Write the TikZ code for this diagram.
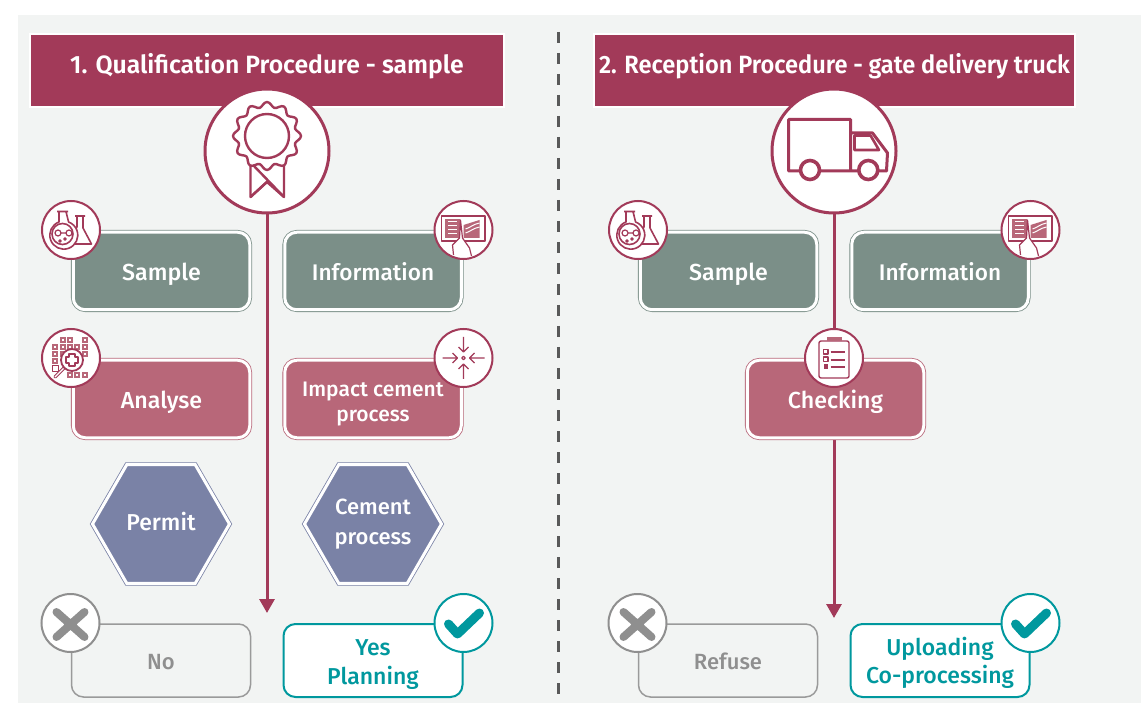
\documentclass[tikz,border=0pt]{standalone}
\usepackage{fontspec}
\setmainfont{Fira Sans}
\newfontfamily\headfont[FakeStretch=0.99]{Fira Sans SemiBold}
\newfontfamily\headtight[FakeStretch=0.944]{Fira Sans SemiBold}
\newfontfamily\labelfont{Fira Sans Medium}
\usetikzlibrary{positioning,shapes.geometric,arrows.meta}
\definecolor{wine}{HTML}{A23A59}
\definecolor{rose}{HTML}{B86779}
\definecolor{sage}{HTML}{7B8F88}
\definecolor{slate}{HTML}{7A82A6}
\definecolor{teal}{HTML}{00989E}
\definecolor{ash}{HTML}{8F8F8F}
\definecolor{panel}{HTML}{F2F4F3}
\newcommand{\lift}[1]{\rule{0pt}{#1}}
\tikzset{
  header/.style={rectangle,draw=white,line width=2pt,fill=wine,text=white,minimum height=73pt,inner sep=0pt,text height=18pt,text depth=12pt},
  box/.style={rectangle,rounded corners=12pt,minimum width=176.5pt,minimum height=77.5pt,inner sep=0pt,outer sep=2.25pt,line width=.8pt,double=white,double distance=3pt,text=white,align=center,font=\labelfont\fontsize{23.2}{25}\selectfont},
  infobox/.style={box,fill=sage,draw=sage},
  workbox/.style={box,fill=rose,draw=rose},
  oneline/.style={text height=19.5pt,text depth=0pt},
  permitbox/.style={regular polygon,regular polygon sides=6,minimum size=137pt,inner sep=0pt,line width=.8pt,double=white,double distance=3pt,fill=slate,draw=slate,text=white,align=center,font=\labelfont\fontsize{22}{30}\selectfont},
  endbox/.style={rectangle,rounded corners=12pt,minimum width=179pt,minimum height=73pt,inner sep=0pt,outer sep=1pt,line width=2pt,align=center,font=\labelfont\fontsize{22}{28.5}\selectfont},
  refusebox/.style={endbox,draw=ash!90,line width=1.5pt,text=ash,text height=18pt,text depth=0pt},
  acceptbox/.style={endbox,draw=teal,fill=white,text=teal},
  bigbadge/.style={circle,draw=wine,fill=white,line width=3pt,minimum size=124pt,inner sep=0pt},
  badge/.style={circle,draw=wine,fill=white,line width=2pt,minimum size=58pt,inner sep=0pt},
  greybadge/.style={badge,draw=ash},
  tealbadge/.style={badge,draw=teal},
  flow/.style={draw=wine,line width=3pt,-{Triangle[length=14pt,width=15pt]}},
  icon/.style={draw=wine,line width=1.6pt,line join=round},
  sealicon/.pic={
    \draw[icon,line width=2.4pt] plot[smooth cycle,samples=96,domain=0:356.25,variable=\t] ({(31.5+2.5*cos(12*\t))*cos(\t)},{-15+(31.5+2.5*cos(12*\t))*sin(\t)});
    \draw[icon,line width=2.4pt] (0,-15) circle (22pt);
    \draw[icon,line width=2.4pt] (-16.5,14) -- (-16.5,46) -- (0,31) -- (17,46) -- (17,14);
    \draw[icon,line width=2.4pt] (-14,14) -- (17,46) (-16.5,46) -- (2,29);
  },
  truckicon/.pic={
    \draw[icon,line width=3pt] (16.5,20) -- (-45.5,20) -- (-45.5,-31.5) -- (16.5,-31.5) -- (16.5,20) -- (52.5,20) -- (53.5,2) -- (38.5,-18) -- (16.5,-18);
    \draw[icon,line width=2.6pt] (20.5,-15.5) -- (36.5,-15.5) -- (45,-1) -- (20.5,-1) -- cycle;
    \draw[icon,line width=3.6pt,fill=white] (-24,19) circle (9.5pt) (34.3,19) circle (9.5pt);
  },
  flaskicon/.pic={
    \draw[icon] (4,-14) -- (14,-14) (6,-14) -- (6,-3) -- (2,4) (12,-14) -- (12,-2) -- (20.5,14) -- (2,14);
    \draw[icon,fill=white] (-14,-18.5) -- (-3,-18.5) (-12,-18.5) -- (-12,-8) arc[start angle=110,end angle=430,radius=14pt] -- (-5,-18.5);
    \draw[icon] (-8.5,4) circle (10.5pt);
    \draw[icon,line width=1.2pt] (-13,3) circle (3pt) (-2,3) circle (3pt) (-10,3) -- (-5,3) (-11,11) circle (1.2pt) (-6,9) circle (1.2pt);
  },
  tableticon/.pic={
    \draw[icon,line width=1.4pt] (-22,-14) rectangle (21.3,11);
    \fill[rose] (-18.7,-10.7) rectangle (-3.7,8);
    \foreach \ly in {-8,-4,0,4}{\draw[white,line width=1pt] (-15.5,\ly) -- (-7,\ly);}
    \fill[rose] (0,-5) -- (16,-10) -- (16,8) -- (0,8) -- cycle;
    \foreach \ly in {-1,3}{\draw[white,line width=1pt] (2,\ly) .. controls (6,\ly-1) and (10,\ly-5) .. (16,\ly-6);}
    \draw[icon,line width=1.2pt,fill=white] (-10,25) -- (-11,15) -- (-4,8) -- (-3,-10) -- (-1,8) -- (6,18) -- (8,26);
  },
  analyseicon/.pic={
    \foreach \gx/\gy in {-8.3/-18,-1/-18,13.7/-18,-15.7/-11.3,-8.3/-11.3,-1/-11.3,6.3/-11.3,13.7/-11.3,-15.7/-4,-8.3/-4,13.7/-4,-15.7/3.3,-1/17,6.3/17,13.7/17}{
      \fill[rose] (\gx-3,\gy-3) rectangle (\gx+3,\gy+3);
      \fill[white] (\gx-1,\gy-1) rectangle (\gx+1,\gy+1);
    }
    \draw[icon,line width=1pt] (-18.7,7.3) rectangle (-12.7,13.3);
    \draw[icon,line width=3.2pt,line cap=round] (-7,10) -- (-16,19);
    \draw[white,line width=1.2pt,line cap=round] (-7,10) -- (-16,19);
    \draw[icon,line width=1.8pt,fill=white] (1,2) circle (11pt);
    \draw[icon,line width=1.4pt,fill=white] (-2,-4) -- (4,-4) -- (4,-1) -- (7,-1) -- (7,5) -- (4,5) -- (4,8) -- (-2,8) -- (-2,5) -- (-5,5) -- (-5,-1) -- (-2,-1) -- cycle;
  },
  impacticon/.pic={
    \draw[icon,line width=1.2pt] (0,0) circle (1.8pt);
    \foreach \ang in {0,90,180,270}{
      \draw[icon,rotate=\ang,line width=1.4pt] (21,0) -- (6,0) (11,-5) -- (6,0) -- (11,5);
    }
  },
  clipicon/.pic={
    \draw[icon,line width=1.4pt,rounded corners=2pt] (-15,-17) rectangle (15,20);
    \fill[rose] (-7,-21) rectangle (7.5,-16.5);
    \foreach \ly in {-6,2,9}{\draw[icon,line width=1.4pt] (-3.5,\ly) -- (11,\ly);}
    \draw[icon,line width=1.2pt] (-10.5,-8.5) rectangle (-6,-4) (-10.5,-1) rectangle (-6,3.5);
    \fill[wine] (-10.5,6.5) rectangle (-6,11);
  },
  crossicon/.pic={
    \draw[ash,line width=8pt,line cap=round] (-14,-11) -- (14,14) (14,-11) -- (-14,14);
  },
  checkicon/.pic={
    \draw[teal,line width=9pt,line cap=round,line join=round] (-15,1) -- (-6,11) -- (16,-10);
  }
}
\begin{document}
\begin{tikzpicture}[x=1pt,y=-1pt]
  \useasboundingbox (0,0) rectangle (1141,703);
  \fill[panel] (18,15) rectangle (1141,703);
  \coordinate (dashtop) at (558.5,32);
  \coordinate (dashend) at (558.5,703);
  \draw[black!65,line width=2.6pt,dash pattern=on 11pt off 10pt] (dashtop) -- (dashend);

  \node[header,minimum width=474pt,font=\headfont\fontsize{25}{30}\selectfont] (head1) at (267,70.5) {1. Qualification Procedure - sample};
  \node[header,minimum width=481pt,font=\headtight\fontsize{25}{30}\selectfont] (head2) at (834.5,70.5) {2. Reception Procedure - gate delivery truck};

  \node[bigbadge] (seal) at (267,151) {};
  \coordinate (sealend) at (267,613);
  \draw[flow] (seal) -- (sealend);
  \pic at (seal) {sealicon};
  \node[bigbadge] (truck) at (834,151) {};
  \coordinate (truckend) at (834,618);
  \draw[flow] (truck) -- (truckend);
  \pic at (truck) {truckicon};

  \node[infobox,oneline] (sample1) at (161.5,271) {Sample};
  \node[infobox,oneline,font=\labelfont\fontsize{22.6}{25}\selectfont] (info1) at (373,271) {Information};
  \node[workbox,oneline] (analyse) at (161.5,399) {Analyse};
  \node[workbox,font=\labelfont\fontsize{21}{25}\selectfont] (impact) at (373,399) {\lift{24pt}Impact cement\\process};
  \node[permitbox,text height=12pt,text depth=0pt] (permit) at (161,524) {\fontsize{23}{30}\selectfont Permit};
  \node[permitbox] (cement) at (373,524) {Cement\\process};
  \node[refusebox] (no) at (161,660.5) {No};
  \node[acceptbox,font=\labelfont\fontsize{23}{29}\selectfont] (yes) at (373,660.5) {\lift{25pt}Yes\\Planning};

  \node[infobox,oneline] (sample2) at (728.5,271) {Sample};
  \node[infobox,oneline,font=\labelfont\fontsize{22.6}{25}\selectfont] (info2) at (940,271) {Information};
  \node[workbox,oneline] (checking) at (835.5,399) {Checking};
  \node[refusebox] (refuse) at (728,660.5) {Refuse};
  \node[acceptbox,font=\labelfont\fontsize{23}{27.5}\selectfont] (upload) at (940,660.5) {\lift{23pt}Uploading\\Co-processing};

  \node[badge] (sample1badge) at (sample1.north west) {};
  \pic at (sample1badge) {flaskicon};
  \node[badge] (info1badge) at (info1.north east) {};
  \pic at (info1badge) {tableticon};
  \node[badge] (analysebadge) at (analyse.north west) {};
  \pic at (analysebadge) {analyseicon};
  \node[badge] (impactbadge) at (impact.north east) {};
  \pic at (impactbadge) {impacticon};
  \node[greybadge] (nobadge) at (no.north west) {};
  \pic at (nobadge) {crossicon};
  \node[tealbadge] (yesbadge) at (yes.north east) {};
  \pic at (yesbadge) {checkicon};

  \node[badge] (sample2badge) at (sample2.north west) {};
  \pic at (sample2badge) {flaskicon};
  \node[badge] (info2badge) at (info2.north east) {};
  \pic at (info2badge) {tableticon};
  \node[badge] (checkbadge) at ([xshift=-1.5pt]checking.north) {};
  \pic at (checkbadge) {clipicon};
  \node[greybadge] (refusebadge) at (refuse.north west) {};
  \pic at (refusebadge) {crossicon};
  \node[tealbadge] (uploadbadge) at (upload.north east) {};
  \pic at (uploadbadge) {checkicon};
\end{tikzpicture}
\end{document}
